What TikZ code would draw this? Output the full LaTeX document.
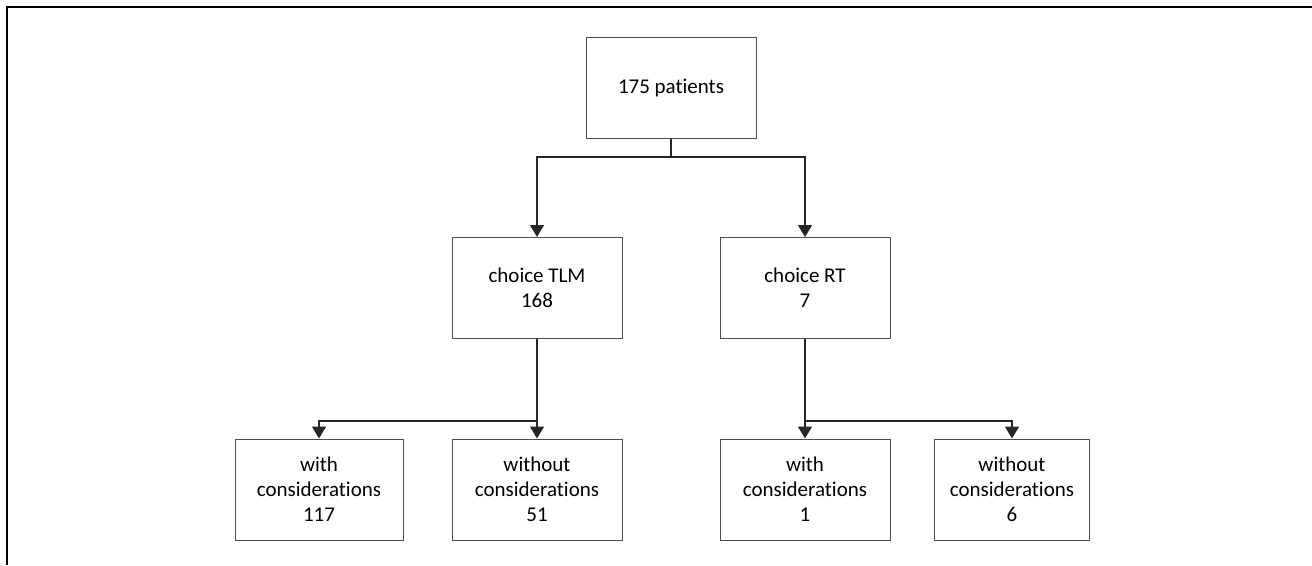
\documentclass[tikz,border=0pt]{standalone}
\usepackage{fontspec}
\setmainfont{Carlito}[Ligatures={NoCommon}]
\usetikzlibrary{arrows.meta}
\begin{document}
\begin{tikzpicture}[x=1pt,y=-1pt,
  box/.style={draw=black!70,line width=1pt,minimum width=170pt,minimum height=101pt,align=center,font=\fontsize{21}{25}\selectfont,text=black,inner sep=0pt},
  conn/.style={draw=black!85,line width=1.5pt},
  arr/.style={conn,-{Triangle[length=12pt,width=14pt]}}]
\useasboundingbox (0,0) rectangle (1312,565);
\draw[line width=1.4pt] (7,565) -- (7,7) -- (1312,7);
\node[box] (top) at (671,87.5) {175 patients};
\node[box] (tlm) at (537,288) {choice TLM\\168};
\node[box] (rt) at (805,288) {choice RT\\7};
\node[box,minimum width=168pt] (w1) at (319,489.5) {with\\considerations\\117};
\node[box] (wo1) at (537,489.5) {without\\considerations\\51};
\node[box] (w2) at (805,489.5) {with\\considerations\\1};
\node[box,minimum width=155pt] (wo2) at (1012,489.5) {without\\considerations\\6};
\coordinate (j0) at (671,157);
\coordinate (j1) at (537,421);
\coordinate (j2) at (805,421);
\draw[conn] (top.south) -- (j0);
\draw[arr] (j0) -| (tlm.north);
\draw[arr] (j0) -| (rt.north);
\draw[arr] (tlm.south) -- (wo1.north);
\draw[arr] (j1) -| (w1.north);
\draw[arr] (rt.south) -- (w2.north);
\draw[arr] (j2) -| (wo2.north);
\end{tikzpicture}
\end{document}
